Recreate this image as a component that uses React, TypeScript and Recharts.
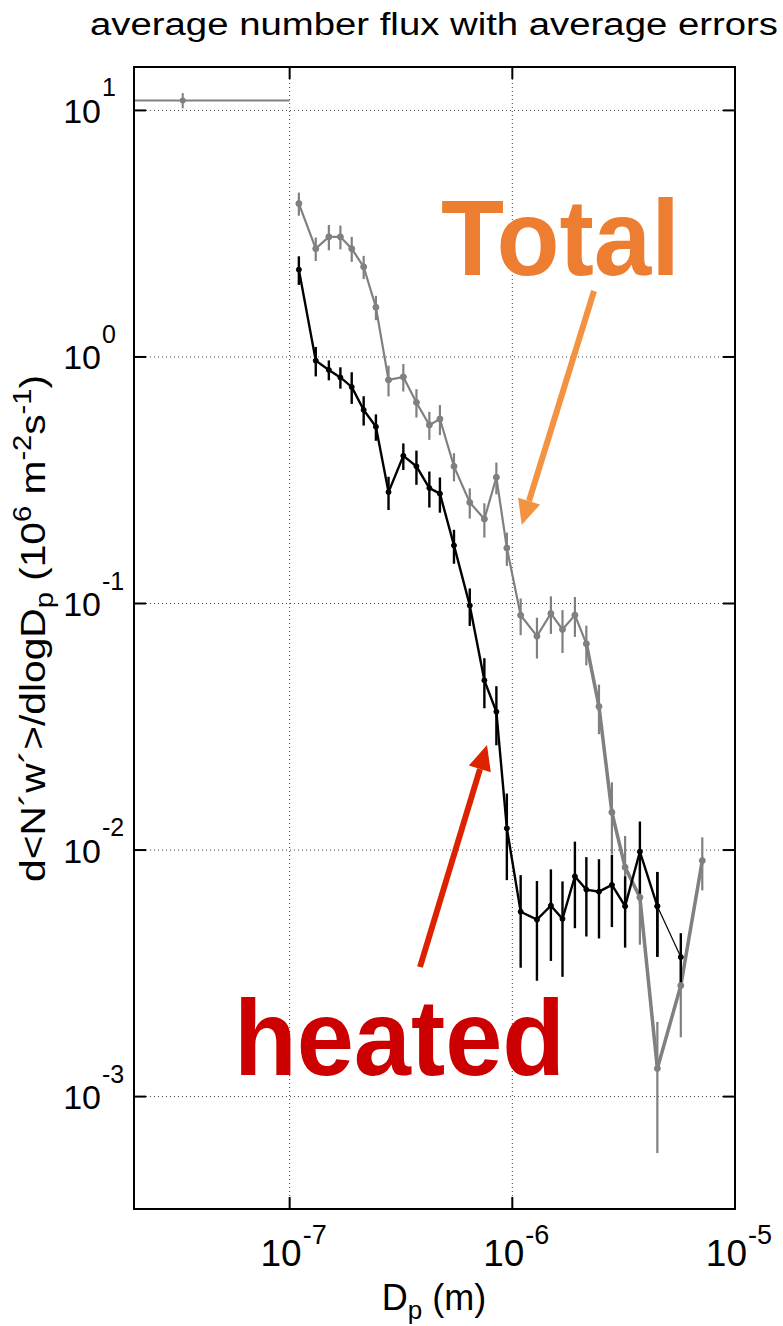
import React from "react";
import {
  CartesianGrid,
  ComposedChart,
  ErrorBar,
  Line,
  ReferenceArea,
  Scatter,
  XAxis,
  YAxis,
} from "recharts";

// particle diameters (m), shared by both series
const diameters = [
  1.1e-7, 1.31e-7, 1.5e-7, 1.69e-7, 1.9e-7, 2.15e-7, 2.44e-7, 2.78e-7, 3.24e-7,
  3.71e-7, 4.24e-7, 4.73e-7, 5.47e-7, 6.44e-7, 7.49e-7, 8.48e-7, 9.45e-7,
  1.09e-6, 1.29e-6, 1.49e-6, 1.68e-6, 1.91e-6, 2.15e-6, 2.45e-6, 2.8e-6,
  3.21e-6, 3.74e-6, 4.48e-6, 5.71e-6, 7.13e-6,
];

const totalFlux = [
  4.19, 2.75, 3.07, 3.07, 2.75, 2.32, 1.59, 0.807, 0.83, 0.654, 0.53, 0.56,
  0.36, 0.257, 0.22, 0.325, 0.168, 0.0896, 0.0737, 0.0911, 0.0785, 0.0897,
  0.0687, 0.0382, 0.01422, 0.00851, 0.00643, 0.0013, 0.00282, 0.00906,
];
const totalErr = [
  0.45, 0.3, 0.36, 0.34, 0.32, 0.25, 0.18, 0.115, 0.106, 0.086, 0.069, 0.078,
  0.047, 0.036, 0.035, 0.048, 0.026, 0.0152, 0.0139, 0.0158, 0.0155, 0.0165,
  0.0126, 0.0087, 0.0046, 0.0029, 0.0023, 0.00071, 0.00108, 0.0022,
];

const heatedFlux = [
  2.26, 0.966, 0.886, 0.826, 0.756, 0.61, 0.521, 0.283, 0.397, 0.36, 0.294,
  0.279, 0.172, 0.0981, 0.0488, 0.0364, 0.01225, 0.00562, 0.00522, 0.00595,
  0.00526, 0.00782, 0.00691, 0.00678, 0.00722, 0.00592, 0.00985, 0.00592,
  0.00368,
];
const heatedErr = [
  0.3, 0.132, 0.082, 0.082, 0.111, 0.083, 0.064, 0.0436, 0.049, 0.057, 0.049,
  0.0455, 0.027, 0.017, 0.0112, 0.0098, 0.0047, 0.00229, 0.00227, 0.0024,
  0.0022, 0.003, 0.00245, 0.0024, 0.00235, 0.0019, 0.0032, 0.00223, 0.00092,
];

// lowest bin of the total series (off to the left)
const firstBinDiameter = 3.31e-8;
const firstBinFlux = 10.98;
const firstBinErr = 0.78;
const firstBinEdges = [2e-8, 1e-7];

const xDomain = [2e-8, 1e-5];
const yDomain = [3.5e-4, 15];
const xTicks = [1e-7, 1e-6, 1e-5];
const yTicks = [1e-3, 1e-2, 1e-1, 1, 10];

const total = diameters.map((x, i) => ({ x, y: totalFlux[i], err: totalErr[i] }));
const heated = heatedFlux.map((y, i) => ({ x: diameters[i], y, err: heatedErr[i] }));
const firstBin = [
  {
    x: firstBinDiameter,
    y: firstBinFlux,
    yErr: firstBinErr,
    xErr: [firstBinDiameter - firstBinEdges[0], firstBinEdges[1] - firstBinDiameter],
  },
];

const FONT = "'Liberation Sans', Arial, sans-serif";
const GRAY = "#808080";
const PLOT_W = 601;
const PLOT_H = 1142;
const TICK = 12;
const exponent = (v: number) => Math.round(Math.log10(v));

// bottom tick label + inward ticks on bottom and top edges
function BottomTick({ x, y, payload }: any) {
  return (
    <g>
      <line x1={x} x2={x} y1={y} y2={y - TICK} stroke="#000" strokeWidth={2} />
      <line x1={x} x2={x} y1={y - PLOT_H} y2={y - PLOT_H + TICK} stroke="#000" strokeWidth={2} />
      <text x={x + 12} y={y + 57} textAnchor="end" fontSize={37} fontFamily={FONT}>
        10
      </text>
      <text x={x + 13} y={y + 35} fontSize={27} fontFamily={FONT}>
        {exponent(payload.value)}
      </text>
    </g>
  );
}

// left tick label + inward ticks on left and right edges
function LeftTick({ x, y, payload }: any) {
  return (
    <g>
      <line x1={x} x2={x + TICK} y1={y} y2={y} stroke="#000" strokeWidth={2} />
      <line x1={x + PLOT_W} x2={x + PLOT_W - TICK} y1={y} y2={y} stroke="#000" strokeWidth={2} />
      <text x={x - 33} y={y + 12.5} textAnchor="end" fontSize={34} fontFamily={FONT}>
        10
      </text>
      <text x={x - 32} y={y - 14} fontSize={25} fontFamily={FONT}>
        {exponent(payload.value)}
      </text>
    </g>
  );
}

export default function App() {
  return (
    <div
      style={{
        position: "absolute",
        left: 0,
        top: 0,
        width: 783,
        height: 1326,
        background: "#fff",
      }}
    >
      <ComposedChart
        width={783}
        height={1326}
        margin={{ top: 67, right: 48, bottom: 0, left: 0 }}
      >
        <CartesianGrid stroke="#444" strokeDasharray="1 3" strokeWidth={1} />
        <XAxis
          dataKey="x"
          type="number"
          scale="log"
          domain={xDomain}
          ticks={xTicks}
          allowDataOverflow
          height={117}
          tickSize={0}
          tickMargin={0}
          tickLine={false}
          axisLine={{ stroke: "#000", strokeWidth: 2 }}
          tick={(p: any) => <BottomTick {...p} />}
        />
        <YAxis
          dataKey="y"
          type="number"
          scale="log"
          domain={yDomain}
          ticks={yTicks}
          allowDataOverflow
          width={134}
          tickSize={0}
          tickMargin={0}
          tickLine={false}
          axisLine={{ stroke: "#000", strokeWidth: 2 }}
          tick={(p: any) => <LeftTick {...p} />}
        />
        <ReferenceArea
          x1={xDomain[0]}
          x2={xDomain[1]}
          y1={yDomain[0]}
          y2={yDomain[1]}
          fill="none"
          fillOpacity={0}
          stroke="#000"
          strokeWidth={2}
          ifOverflow="visible"
        />

        {/* Total */}
        <Scatter
          data={firstBin}
          dataKey="y"
          isAnimationActive={false}
          shape={(p: any) => <circle cx={p.cx} cy={p.cy} r={3} fill={GRAY} />}
        >
          <ErrorBar dataKey="xErr" direction="x" width={0} stroke={GRAY} strokeWidth={2} />
          <ErrorBar dataKey="yErr" direction="y" width={0} stroke={GRAY} strokeWidth={2} />
        </Scatter>
        <Line
          data={total}
          dataKey="y"
          stroke={GRAY}
          strokeWidth={2.2}
          dot={{ r: 3, fill: GRAY, stroke: GRAY, strokeWidth: 1 }}
          isAnimationActive={false}
        >
          <ErrorBar dataKey="err" direction="y" width={0} stroke={GRAY} strokeWidth={2.2} />
        </Line>
        <Line
          data={total.slice(22)}
          dataKey="y"
          stroke={GRAY}
          strokeWidth={3.5}
          dot={false}
          isAnimationActive={false}
        />

        {/* heated */}
        <Line
          data={heated.slice(0, -1)}
          dataKey="y"
          stroke="#000"
          strokeWidth={2.4}
          dot={{ r: 2.5, fill: "#000", stroke: "#000", strokeWidth: 1 }}
          isAnimationActive={false}
        >
          <ErrorBar dataKey="err" direction="y" width={0} stroke="#000" strokeWidth={2.4} />
        </Line>
        <Line
          data={heated.slice(-2)}
          dataKey="y"
          stroke="#000"
          strokeWidth={1.2}
          dot={{ r: 2.5, fill: "#000", stroke: "#000", strokeWidth: 1 }}
          isAnimationActive={false}
        >
          <ErrorBar dataKey="err" direction="y" width={0} stroke="#000" strokeWidth={2.4} />
        </Line>
      </ComposedChart>

      <svg
        width={783}
        height={1326}
        style={{ position: "absolute", left: 0, top: 0, pointerEvents: "none" }}
      >
        <text
          x={90}
          y={35}
          fontSize={31}
          fontFamily={FONT}
          textLength={688}
          lengthAdjust="spacingAndGlyphs"
        >
          average number flux with average errors
        </text>

        <text
          x={45}
          y={882}
          transform="rotate(-90, 45, 882)"
          fontSize={35}
          fontFamily={FONT}
          textLength={507}
          lengthAdjust="spacingAndGlyphs"
        >
          d&lt;N´w´&gt;/dlogD
          <tspan fontSize={25} dy={8}>p</tspan>
          <tspan dy={-8}> (10</tspan>
          <tspan fontSize={25} dy={-14}>6</tspan>
          <tspan dy={14}> m</tspan>
          <tspan fontSize={25} dy={-14}>-2</tspan>
          <tspan dy={14}>s</tspan>
          <tspan fontSize={25} dy={-14}>-1</tspan>
          <tspan dy={14}>)</tspan>
        </text>

        <text x={434} y={1310} textAnchor="middle" fontSize={36} fontFamily={FONT}>
          D<tspan fontSize={26} dy={9}>p</tspan>
          <tspan dy={-9}> (m)</tspan>
        </text>

        <text
          x={441}
          y={275}
          fontSize={107}
          fontWeight="bold"
          fontFamily={FONT}
          fill="#ED7D31"
          textLength={239}
          lengthAdjust="spacingAndGlyphs"
        >
          Total
        </text>
        <line x1={594} y1={291} x2={529} y2={501} stroke="#F39240" strokeWidth={6} />
        <polygon points="521.7,525 540.1,504.5 518.1,497.7" fill="#F39240" />

        <text
          x={234}
          y={1075}
          fontSize={108}
          fontWeight="bold"
          fontFamily={FONT}
          fill="#CC0000"
          textLength={331}
          lengthAdjust="spacingAndGlyphs"
        >
          heated
        </text>
        <line x1={420} y1={967} x2={480} y2={769} stroke="#DD2200" strokeWidth={6} />
        <polygon points="487,745 490.8,772.2 468.8,765.6" fill="#DD2200" />
      </svg>
    </div>
  );
}
